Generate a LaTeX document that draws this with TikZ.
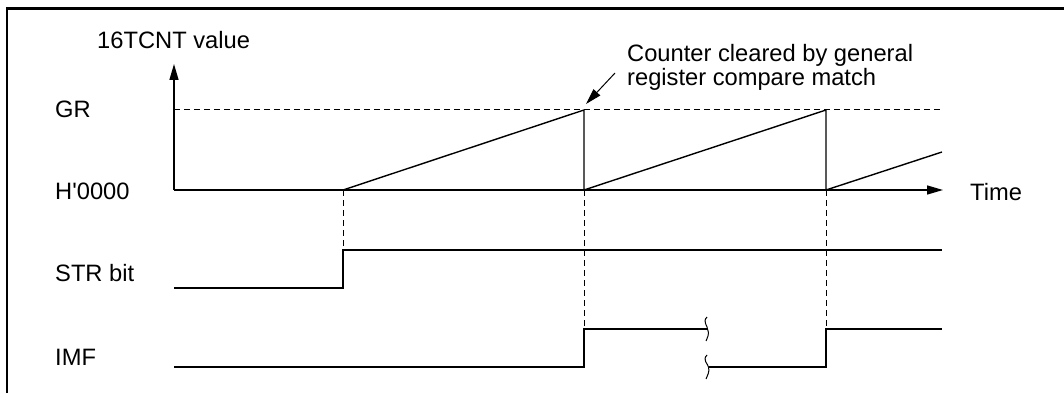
\documentclass[tikz,border=0pt]{standalone}
\usepackage{fontspec}
\setmainfont{Liberation Sans}
\usetikzlibrary{arrows.meta}
\begin{document}
\begin{tikzpicture}[x=1pt,y=-1pt,
  lbl/.style={inner sep=0pt,anchor=west,font=\fontsize{23.7}{24.5}\selectfont},
  sig/.style={line width=1.4pt},
  guide/.style={line width=1pt,dash pattern=on 6pt off 4pt},
  frameline/.style={line width=2.6pt},
  tip/.style={-{Triangle[length=16pt,width=9pt]}}]
\useasboundingbox (0,0) rectangle (1064,393);
% frame
\draw[frameline] (7,393) -- (7,8.5) -- (1064,8.5);
% labels
\node[lbl] (yl) at (97,40) {16TCNT value};
\node[lbl] (gr) at (55,109) {GR};
\node[lbl] (h0) at (55,191) {H\textquotesingle 0000};
\node[lbl] (str) at (55,273) {STR bit};
\node[lbl] (imf) at (55,357) {IMF};
\node[lbl] (time) at (970,192) {Time};
\node[lbl,anchor=base west,align=left] (note) at (627,86) {Counter cleared by general\\register compare match};
% coordinates
\coordinate (o) at (174,190);
\coordinate (ytop) at (174,64);
\coordinate (xend) at (943,190);
\coordinate (s) at (343,190);
\coordinate (p1) at (584,110);
\coordinate (b1) at (584,190);
\coordinate (p2) at (826,110);
\coordinate (b2) at (826,190);
\coordinate (r3) at (942,152);
\coordinate (ga) at (174,110);
\coordinate (gb) at (942,110);
\coordinate (na) at (615,73);
\coordinate (nb) at (586,104);
% GR dashed level
\draw[guide] (ga) -- (gb);
% axes
\draw[sig,tip] (o) -- (ytop);
\draw[sig,tip] (o) -- (xend);
% counter
\draw[sig] (s) -- (p1) -- (b1) -- (p2) -- (b2) -- (r3);
% annotation arrow
\draw[line width=1pt,tip] (na) -- (nb);
% dashed verticals
\draw[guide] (s) -- (343,250);
\draw[guide] (b1) -- (584,329);
\draw[guide] (b2) -- (826,329);
% STR bit
\draw[sig] (174,288) -- (343,288) -- (343,250) -- (942,250);
% IMF
\draw[sig] (174,367) -- (584,367) -- (584,329) -- (707,329);
\draw[sig] (709,367) -- (826,367) -- (826,329) -- (942,329);
% break marks
\draw[line width=1pt] (707,317) .. controls (702,322) and (708,326) .. (707.5,329)
  .. controls (710,334) and (707,338) .. (706,341);
\draw[line width=1pt] (707,355) .. controls (702,360) and (708,364) .. (708.5,367)
  .. controls (710,372) and (707,376) .. (706,379);
\end{tikzpicture}
\end{document}
